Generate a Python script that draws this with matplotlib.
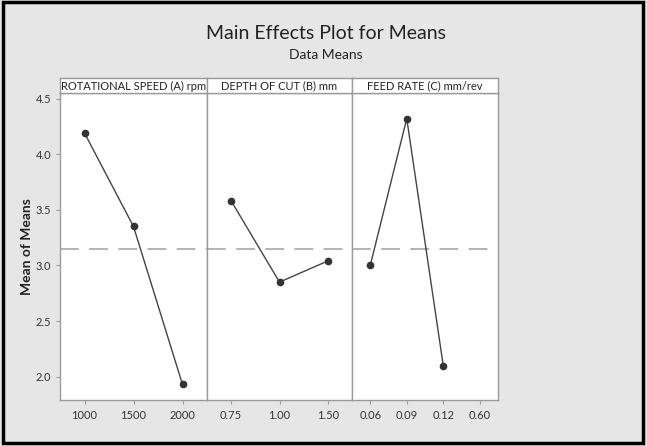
import matplotlib.pyplot as plt
from matplotlib.patches import Rectangle

# data
factors = ['ROTATIONAL SPEED (A) rpm', 'DEPTH OF CUT (B) mm', 'FEED RATE (C) mm/rev']
levels_a = ['1000', '1500', '2000']
means_a = [4.19, 3.35, 1.93]
levels_b = ['0.75', '1.00', '1.50']
means_b = [3.58, 2.85, 3.04]
levels_c = ['0.06', '0.09', '0.12', '0.60']
means_c = [3.00, 4.32, 2.10]
grand_mean = 3.15
yticks = [2.0, 2.5, 3.0, 3.5, 4.0, 4.5]

plt.rcParams['font.family'] = ['Lato', 'DejaVu Sans']

fig = plt.figure(figsize=(6.47, 4.46), dpi=100)
fig.patch.set_facecolor('#e6e6e6')
fig.patches.append(Rectangle((0.004, 0.006), 0.99, 0.99, transform=fig.transFigure,
                             fill=False, edgecolor='black', linewidth=2.5))

fig.text(0.504, 0.924, 'Main Effects Plot for Means', ha='center', va='center', fontsize=14, color='#222222')
fig.text(0.504, 0.876, 'Data Means', ha='center', va='center', fontsize=10, color='#222222')

left = 60 / 647.0
widths = [147 / 647.0, 145 / 647.0, 146 / 647.0]
bottom = 1 - 400 / 446.0
height = 307 / 446.0
strip_h = 15 / 446.0

panels = [(levels_a, means_a), (levels_b, means_b), (levels_c, means_c)]
x0 = left
for i, (labs, vals) in enumerate(panels):
    ax = fig.add_axes([x0, bottom, widths[i], height])
    ax.set_facecolor('white')
    xs = list(range(1, len(vals) + 1))
    ax.plot(xs, vals, color='#444444', linewidth=1.0, marker='o', markersize=4.5,
            markerfacecolor='#333333', markeredgecolor='#333333', zorder=3)
    ax.axhline(grand_mean, color='#b5b5b5', linewidth=1.5, dashes=(9, 5), zorder=2)
    ax.set_xlim(0.5, len(labs) + 0.5)
    ax.set_ylim(1.79, 4.55)
    ax.set_xticks(range(1, len(labs) + 1))
    ax.set_xticklabels(labs, fontsize=8, color='#333333')
    for s in ax.spines.values():
        s.set_color('#9a9a9a')
        s.set_linewidth(1.0)
    ax.tick_params(axis='x', length=3, color='#9a9a9a', pad=4)
    if i == 0:
        ax.set_yticks(yticks)
        ax.set_yticklabels(['%.1f' % v for v in yticks], fontsize=8, color='#333333')
        ax.tick_params(axis='y', length=3, color='#9a9a9a')
        ax.set_ylabel('Mean of Means', fontsize=10, fontweight='bold', color='#222222')
        ax.yaxis.set_label_coords(-0.185, 0.5)
    else:
        ax.set_yticks([])
    sax = fig.add_axes([x0, bottom + height, widths[i], strip_h])
    sax.set_facecolor('white')
    sax.set_xticks([])
    sax.set_yticks([])
    for s in sax.spines.values():
        s.set_color('#9a9a9a')
        s.set_linewidth(1.0)
    sax.text(0.5, 0.45, factors[i], ha='center', va='center', fontsize=8, color='#222222',
             transform=sax.transAxes)
    x0 += widths[i]

plt.savefig('out.png', dpi=100, facecolor=fig.get_facecolor())
